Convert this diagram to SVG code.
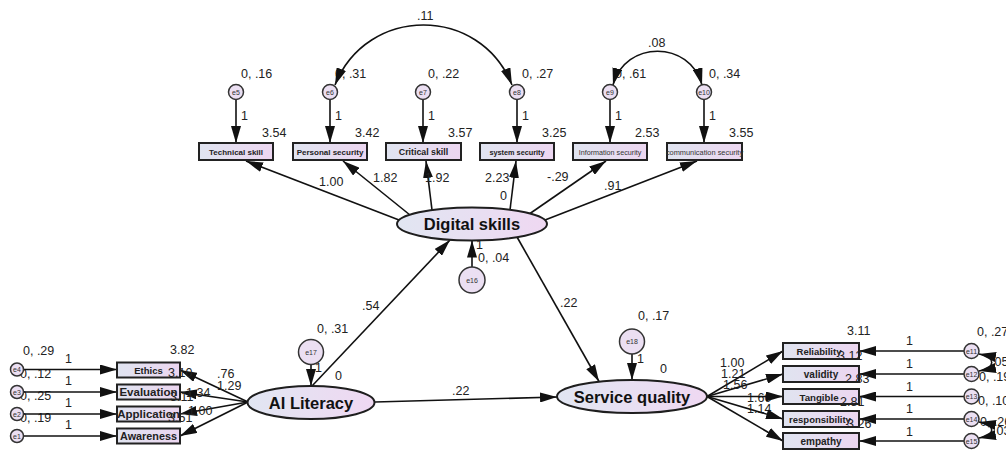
<svg xmlns="http://www.w3.org/2000/svg" width="1006" height="450" viewBox="0 0 1006 450">
<style>
.box{fill:url(#gBox);stroke:#222;stroke-width:2}
.ell{fill:url(#gEll);stroke:#1e1e1e;stroke-width:2}
.err{fill:#ebdff2;stroke:#333;stroke-width:1.5}
.bt{font-family:"Liberation Sans",Arial,sans-serif;font-weight:bold;fill:#222;text-anchor:middle}
.bn{font-family:"Liberation Sans",Arial,sans-serif;fill:#333;text-anchor:middle}
.lt{font-family:"Liberation Sans",Arial,sans-serif;font-size:16.5px;font-weight:bold;fill:#111;text-anchor:middle}
.et{font-family:"Liberation Sans",Arial,sans-serif;font-size:7px;fill:#333;text-anchor:middle}
.num{font-family:"Liberation Sans",Arial,sans-serif;font-size:12.5px;fill:#222}
.c{stroke:#111;stroke-width:1.6;fill:none;marker-end:url(#ah)}
.cv{stroke:#111;stroke-width:1.6;fill:none;marker-end:url(#ah);marker-start:url(#ahs)}
</style>
<defs>
<linearGradient id="gBox" x1="0" y1="0" x2="1" y2="0"><stop offset="0" stop-color="#e0e4f0"/><stop offset="1" stop-color="#ecd6f0"/></linearGradient>
<linearGradient id="gEll" x1="0" y1="0" x2="1" y2="0"><stop offset="0" stop-color="#e1e6f2"/><stop offset="1" stop-color="#efd8f2"/></linearGradient>
<marker id="ah" markerWidth="17" markerHeight="10" refX="17" refY="5" orient="auto" markerUnits="userSpaceOnUse"><path d="M0,0 L17,5 L0,10 z" fill="#111"/></marker>
<marker id="ahs" markerWidth="17" markerHeight="10" refX="17" refY="5" orient="auto-start-reverse" markerUnits="userSpaceOnUse"><path d="M0,0 L17,5 L0,10 z" fill="#111"/></marker>
</defs>
<rect width="1006" height="450" fill="#fff"/>

<g id="labels-back" class="num">
<text x="335" y="78">0, .31</text>
<text x="615" y="78">0, .61</text>
<text x="23" y="355">0, .29</text>
<text x="20" y="378">0, .12</text>
<text x="20" y="400">0, .25</text>
<text x="20" y="422">0, .19</text>
<text x="977" y="336">0, .27</text>
<text x="991" y="366">.05</text>
<text x="979" y="381">0, .19</text>
<text x="978" y="405">0, .10</text>
<text x="980" y="426">0, .26</text>
<text x="993" y="435">.03</text>
<text x="747" y="402">1.60</text>
<text x="747" y="413">1.14</text>
<text x="476" y="249">1</text>
</g>

<g id="connectors">
<line class="c" x1="236" y1="99.5" x2="236" y2="143"/>
<line class="c" x1="330" y1="99.5" x2="330" y2="143"/>
<line class="c" x1="423" y1="99.5" x2="423" y2="143"/>
<line class="c" x1="517" y1="99.5" x2="517" y2="143"/>
<line class="c" x1="610" y1="99.5" x2="610" y2="143"/>
<line class="c" x1="704" y1="99.5" x2="704" y2="143"/>
<line class="c" x1="399" y1="220" x2="246" y2="161"/>
<line class="c" x1="410" y1="215" x2="343" y2="161"/>
<line class="c" x1="432" y1="210" x2="426" y2="161"/>
<line class="c" x1="510" y1="210" x2="516" y2="161"/>
<line class="c" x1="530" y1="213.5" x2="606" y2="161"/>
<line class="c" x1="545" y1="220" x2="697" y2="161"/>
<line class="c" x1="472" y1="267" x2="472" y2="240.5"/>
<line class="c" x1="312" y1="386" x2="450" y2="240"/>
<line class="c" x1="517" y1="237" x2="599" y2="381.5"/>
<line class="c" x1="311" y1="364.5" x2="311" y2="386"/>
<line class="c" x1="632" y1="354" x2="632" y2="380"/>
<line class="c" x1="375" y1="402" x2="557" y2="397"/>
<line class="c" x1="248" y1="402" x2="180" y2="370"/>
<line class="c" x1="248" y1="402" x2="180" y2="392"/>
<line class="c" x1="248" y1="402" x2="180" y2="414"/>
<line class="c" x1="248" y1="402" x2="180" y2="436"/>
<line class="c" x1="23.5" y1="369.5" x2="117" y2="369.5"/>
<line class="c" x1="23.5" y1="392" x2="117" y2="392"/>
<line class="c" x1="23.5" y1="414" x2="117" y2="414"/>
<line class="c" x1="23.5" y1="436" x2="117" y2="436"/>
<line class="c" x1="707" y1="396.5" x2="783" y2="351"/>
<line class="c" x1="707" y1="396.5" x2="783" y2="374"/>
<line class="c" x1="707" y1="396.5" x2="783" y2="396.5"/>
<line class="c" x1="707" y1="396.5" x2="783" y2="419"/>
<line class="c" x1="707" y1="396.5" x2="783" y2="441"/>
<line class="c" x1="964" y1="351" x2="859" y2="351"/>
<line class="c" x1="964" y1="374" x2="859" y2="374"/>
<line class="c" x1="964" y1="396.5" x2="859" y2="396.5"/>
<line class="c" x1="964" y1="419" x2="859" y2="419"/>
<line class="c" x1="964" y1="441" x2="859" y2="441"/>
<path class="cv" d="M512,85 C480,5 367,5 335,85"/>
<path class="cv" d="M613,85 C625,40 690,40 702,85"/>
<path class="cv" d="M979,354 C996,357 996,368 979,371"/>
<path class="cv" d="M979,422 C996,425 996,435 979,438"/>
</g>

<g id="e5"><circle class="err" cx="236" cy="92" r="7.5"/><text class="et" x="236" y="94.5">e5</text></g>
<g id="e6"><circle class="err" cx="330" cy="92" r="7.5"/><text class="et" x="330" y="94.5">e6</text></g>
<g id="e7"><circle class="err" cx="423" cy="92" r="7.5"/><text class="et" x="423" y="94.5">e7</text></g>
<g id="e8"><circle class="err" cx="517" cy="92" r="7.5"/><text class="et" x="517" y="94.5">e8</text></g>
<g id="e9"><circle class="err" cx="610" cy="92" r="7.5"/><text class="et" x="610" y="94.5">e9</text></g>
<g id="e10"><circle class="err" cx="704" cy="92" r="7.5"/><text class="et" x="704" y="94.5">e10</text></g>

<g id="technical-skill"><rect class="box" x="199" y="143" width="74" height="17"/><text class="bt" x="236" y="154.5" font-size="8">Technical skill</text></g>
<g id="personal-security"><rect class="box" x="293" y="143" width="74" height="17"/><text class="bt" x="330" y="154.5" font-size="8">Personal security</text></g>
<g id="critical-skill"><rect class="box" x="386" y="143" width="75" height="17"/><text class="bt" x="423.5" y="154.5" font-size="8.8">Critical skill</text></g>
<g id="system-security"><rect class="box" x="480" y="143" width="74" height="17"/><text class="bt" x="517" y="154.5" font-size="7.3">system security</text></g>
<g id="information-security"><rect class="box" x="573" y="143" width="74" height="17"/><text class="bn" x="610" y="154.5" font-size="7.2">Information security</text></g>
<g id="communication-security"><rect class="box" x="667" y="143" width="75" height="17"/><text class="bn" x="704.5" y="154.5" font-size="7.4">communication security</text></g>

<g id="digital-skills"><ellipse class="ell" cx="472" cy="224" rx="75" ry="16.5"/><text class="lt" x="472" y="230">Digital skills</text></g>
<g id="e16"><circle class="err" cx="472" cy="280" r="13"/><text class="et" x="472" y="282.5" font-size="8">e16</text></g>

<g id="ai-literacy"><ellipse class="ell" cx="311" cy="402.5" rx="63.5" ry="16.5"/><text class="lt" x="311" y="408.5">AI Literacy</text></g>
<g id="e17"><circle class="err" cx="311" cy="352" r="12.5"/><text class="et" x="311" y="354.5" font-size="8">e17</text></g>

<g id="service-quality"><ellipse class="ell" cx="632" cy="396.5" rx="75" ry="16.5"/><text class="lt" x="632" y="402.5">Service quality</text></g>
<g id="e18"><circle class="err" cx="632" cy="341.5" r="12.5"/><text class="et" x="632" y="344" font-size="8">e18</text></g>

<g id="e4"><circle class="err" cx="17" cy="369.5" r="6.5"/><text class="et" x="17" y="372">e4</text></g>
<g id="e3"><circle class="err" cx="17" cy="392" r="6.5"/><text class="et" x="17" y="394.5">e3</text></g>
<g id="e2"><circle class="err" cx="17" cy="414" r="6.5"/><text class="et" x="17" y="416.5">e2</text></g>
<g id="e1"><circle class="err" cx="17" cy="436" r="6.5"/><text class="et" x="17" y="438.5">e1</text></g>

<g id="ethics"><rect class="box" x="117" y="362.5" width="63" height="15"/><text class="bt" x="148.5" y="373.5" font-size="9.5">Ethics</text></g>
<g id="evaluation"><rect class="box" x="117" y="384.5" width="63" height="15"/><text class="bt" x="148.5" y="396" font-size="11.5">Evaluation</text></g>
<g id="application"><rect class="box" x="117" y="406.5" width="63" height="15"/><text class="bt" x="148.5" y="418" font-size="11.5">Application</text></g>
<g id="awareness"><rect class="box" x="117" y="428.5" width="63" height="15"/><text class="bt" x="148.5" y="440" font-size="10.8">Awareness</text></g>

<g id="reliability"><rect class="box" x="783" y="343" width="76" height="16"/><text class="bt" x="819" y="354.5" font-size="9.5">Reliability</text></g>
<g id="validity"><rect class="box" x="783" y="366" width="76" height="16"/><text class="bt" x="821" y="377.5" font-size="10">validity</text></g>
<g id="tangible"><rect class="box" x="783" y="389" width="76" height="15"/><text class="bt" x="819" y="400.5" font-size="9.7">Tangible</text></g>
<g id="responsibility"><rect class="box" x="783" y="411" width="76" height="16"/><text class="bt" x="820" y="422.5" font-size="9.5">responsibility</text></g>
<g id="empathy"><rect class="box" x="783" y="433" width="76" height="16"/><text class="bt" x="821" y="444.5" font-size="10">empathy</text></g>

<g id="e11"><circle class="err" cx="971.5" cy="351" r="7.5"/><text class="et" x="971.5" y="353.5">e11</text></g>
<g id="e12"><circle class="err" cx="971.5" cy="374" r="7.5"/><text class="et" x="971.5" y="376.5">e12</text></g>
<g id="e13"><circle class="err" cx="971.5" cy="396.5" r="7.5"/><text class="et" x="971.5" y="399">e13</text></g>
<g id="e14"><circle class="err" cx="971.5" cy="419" r="7.5"/><text class="et" x="971.5" y="421.5">e14</text></g>
<g id="e15"><circle class="err" cx="971.5" cy="441" r="7.5"/><text class="et" x="971.5" y="443.5">e15</text></g>

<g id="labels-front" class="num">
<text x="241" y="78">0, .16</text>
<text x="428" y="78">0, .22</text>
<text x="522" y="78">0, .27</text>
<text x="709" y="78">0, .34</text>
<text x="241" y="120">1</text>
<text x="335" y="120">1</text>
<text x="428" y="120">1</text>
<text x="522" y="120">1</text>
<text x="615" y="120">1</text>
<text x="709" y="120">1</text>
<text x="262" y="137">3.54</text>
<text x="355" y="137">3.42</text>
<text x="448" y="137">3.57</text>
<text x="542" y="137">3.25</text>
<text x="635" y="137">2.53</text>
<text x="729" y="137">3.55</text>
<text x="417" y="20">.11</text>
<text x="648" y="47">.08</text>
<text x="319" y="186">1.00</text>
<text x="373" y="182">1.82</text>
<text x="425" y="182">1.92</text>
<text x="485" y="182">2.23</text>
<text x="500" y="200">0</text>
<text x="547" y="181">-.29</text>
<text x="604" y="190">.91</text>
<text x="478" y="262">0, .04</text>
<text x="362" y="310">.54</text>
<text x="317" y="333">0, .31</text>
<text x="315" y="372">1</text>
<text x="335" y="380">0</text>
<text x="560" y="307">.22</text>
<text x="452" y="395">.22</text>
<text x="638" y="320">0, .17</text>
<text x="637" y="363">1</text>
<text x="660" y="373">0</text>
<text x="720" y="367">1.00</text>
<text x="721" y="378">1.21</text>
<text x="723" y="389">1.56</text>
<text x="65" y="363">1</text>
<text x="65" y="385">1</text>
<text x="65" y="407">1</text>
<text x="65" y="429">1</text>
<text x="170" y="354">3.82</text>
<text x="168" y="377">3.10</text>
<text x="186" y="397">1.34</text>
<text x="170" y="401">3.11</text>
<text x="188" y="415">1.00</text>
<text x="168" y="422">3.51</text>
<text x="217" y="378">.76</text>
<text x="217" y="390">1.29</text>
<text x="847" y="335">3.11</text>
<text x="838" y="360">3.12</text>
<text x="845" y="383">2.83</text>
<text x="840" y="406">2.81</text>
<text x="847" y="428">3.26</text>
<text x="906" y="345">1</text>
<text x="906" y="368">1</text>
<text x="906" y="391">1</text>
<text x="906" y="413">1</text>
<text x="906" y="436">1</text>
</g>
</svg>
